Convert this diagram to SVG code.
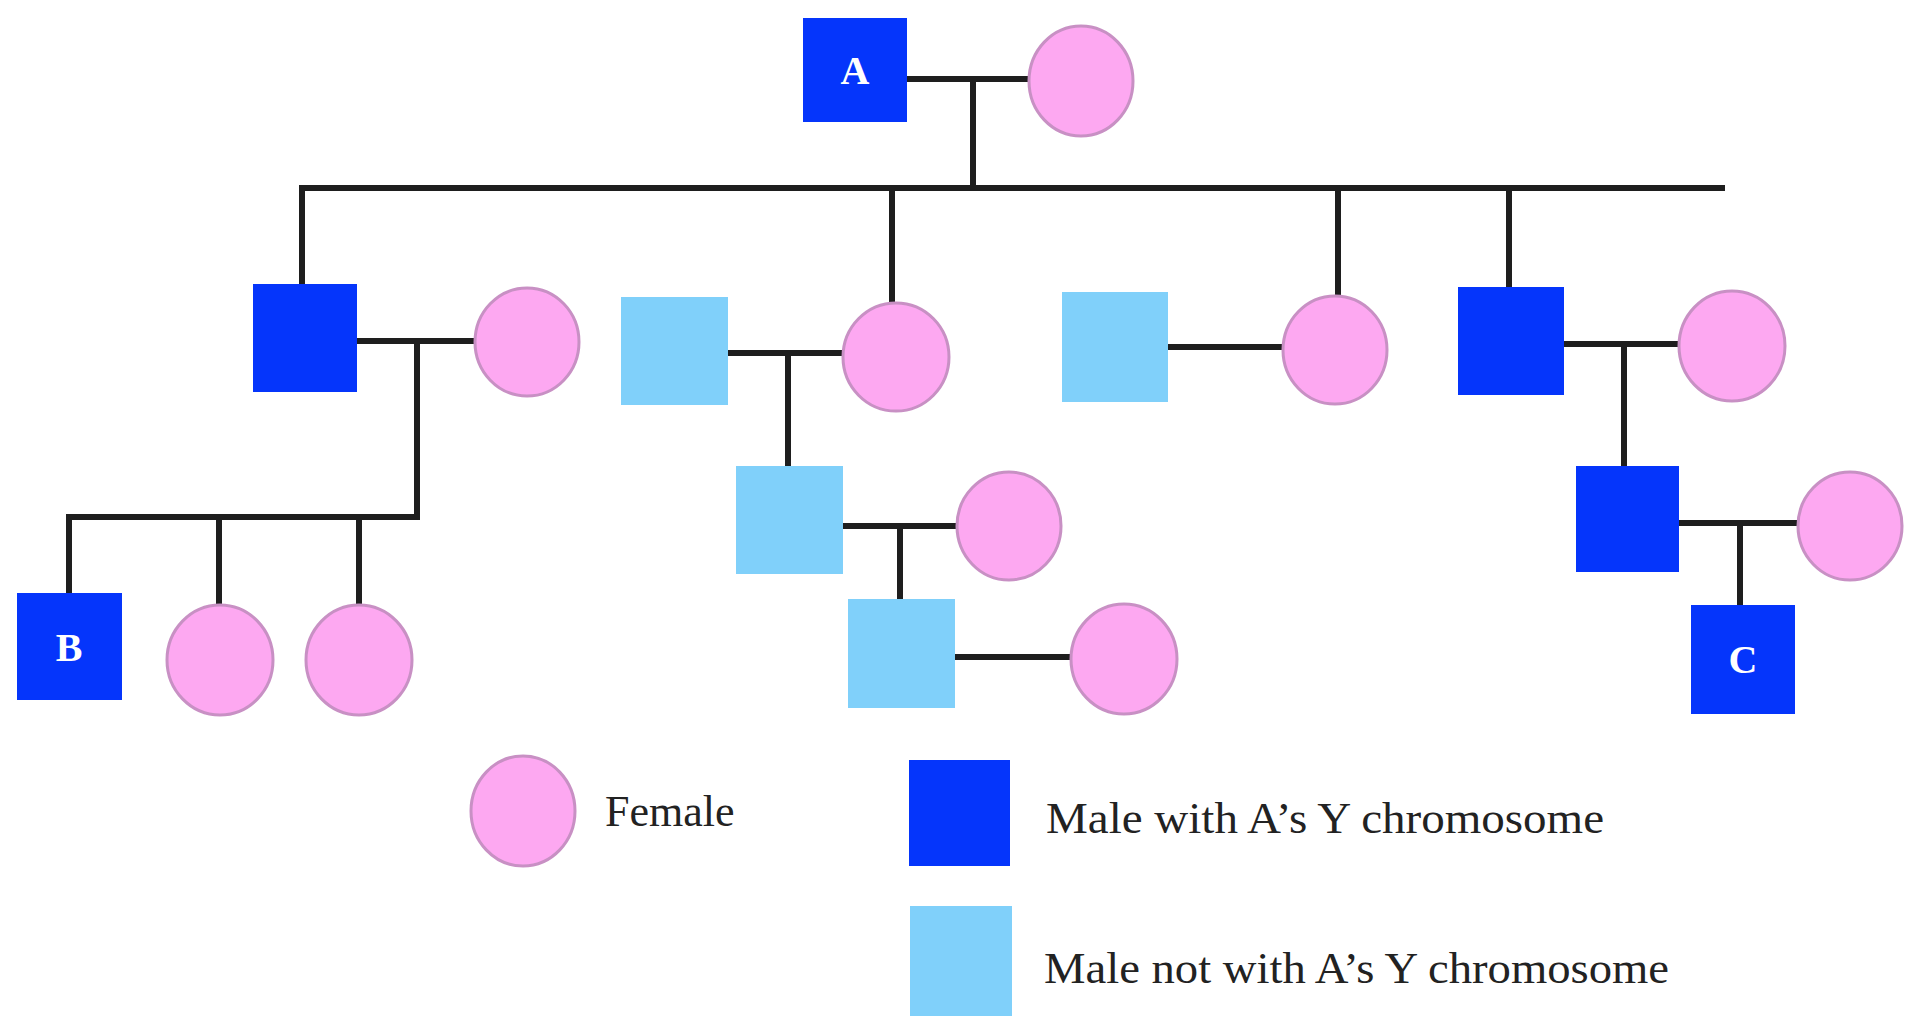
<svg xmlns="http://www.w3.org/2000/svg" width="1908" height="1019" viewBox="0 0 1908 1019">
<style>
.dark{fill:#0535fb}
.light{fill:#80d0fa}
.fem{fill:#fda8f1;stroke:#c890c4;stroke-width:3}
.ln{stroke:#1e1e1e;stroke-width:6;fill:none;stroke-linecap:square}
.lab{font-family:"Liberation Serif",serif;font-weight:bold;font-size:40px;fill:#ffffff;text-anchor:middle}
.leg{font-family:"Liberation Serif",serif;font-size:44px;fill:#222222}
</style>
<rect width="1908" height="1019" fill="#ffffff"/>
<g id="connectors" class="ln">
<path d="M906 79H1028M973 79V188M302 188H1722"/>
<path d="M302 188V283M892 188V304M1338 188V296M1509 188V287"/>
<path d="M357 341H475M417 341V517H69V593M219 517V605M359 517V605"/>
<path d="M728 353H843M788 353V466M843 526H958M900 526V599M955 657H1071"/>
<path d="M1168 347H1284"/>
<path d="M1564 344H1679M1624 344V466M1679 523H1797M1740 523V605"/>
</g>
<g id="nodeA"><rect class="dark" x="803" y="18" width="104" height="104"/><text class="lab" x="855" y="84">A</text></g>
<g id="fA"><ellipse class="fem" cx="1081" cy="81" rx="52" ry="55"/></g>
<g id="m1"><rect class="dark" x="253" y="284" width="104" height="108"/></g>
<g id="f1"><ellipse class="fem" cx="527" cy="342" rx="52" ry="54"/></g>
<g id="nodeB"><rect class="dark" x="17" y="593" width="105" height="107"/><text class="lab" x="69" y="661">B</text></g>
<g id="f1a"><ellipse class="fem" cx="220" cy="660" rx="53" ry="55"/></g>
<g id="f1b"><ellipse class="fem" cx="359" cy="660" rx="53" ry="55"/></g>
<g id="m2"><rect class="light" x="621" y="297" width="107" height="108"/></g>
<g id="f2"><ellipse class="fem" cx="896" cy="357" rx="53" ry="54"/></g>
<g id="m3"><rect class="light" x="736" y="466" width="107" height="108"/></g>
<g id="f3"><ellipse class="fem" cx="1009" cy="526" rx="52" ry="54"/></g>
<g id="m4"><rect class="light" x="848" y="599" width="107" height="109"/></g>
<g id="f4"><ellipse class="fem" cx="1124" cy="659" rx="53" ry="55"/></g>
<g id="m5"><rect class="light" x="1062" y="292" width="106" height="110"/></g>
<g id="f5"><ellipse class="fem" cx="1335" cy="350" rx="52" ry="54"/></g>
<g id="m6"><rect class="dark" x="1458" y="287" width="106" height="108"/></g>
<g id="f6"><ellipse class="fem" cx="1732" cy="346" rx="53" ry="55"/></g>
<g id="m7"><rect class="dark" x="1576" y="466" width="103" height="106"/></g>
<g id="f7"><ellipse class="fem" cx="1850" cy="526" rx="52" ry="54"/></g>
<g id="nodeC"><rect class="dark" x="1691" y="605" width="104" height="109"/><text class="lab" x="1743" y="673">C</text></g>
<g id="legend">
<ellipse class="fem" cx="523" cy="811" rx="52" ry="55"/>
<text class="leg" x="605" y="826">Female</text>
<rect class="dark" x="909" y="760" width="101" height="106"/>
<text class="leg" x="1046" y="833" textLength="558" lengthAdjust="spacingAndGlyphs">Male with A’s Y chromosome</text>
<rect class="light" x="910" y="906" width="102" height="110"/>
<text class="leg" x="1044" y="983" textLength="625" lengthAdjust="spacingAndGlyphs">Male not with A’s Y chromosome</text>
</g>
</svg>
